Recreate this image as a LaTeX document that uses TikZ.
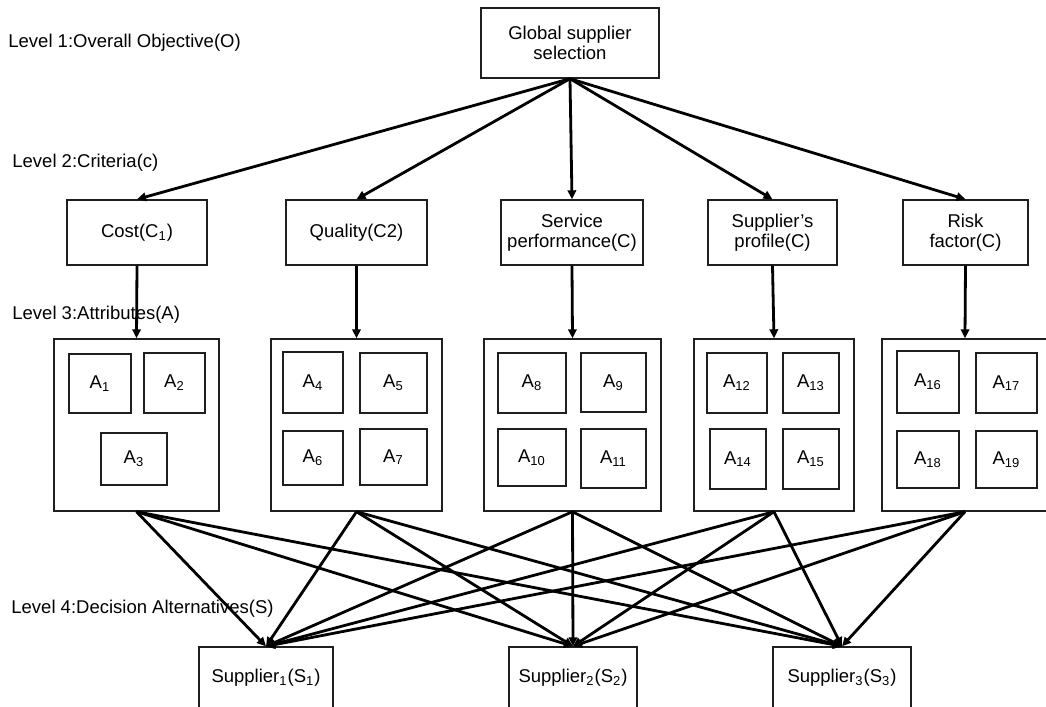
\documentclass[tikz,border=0pt]{standalone}
\usepackage{fontspec}
\setmainfont{Liberation Sans}
\usetikzlibrary{arrows.meta}
\begin{document}
\begin{tikzpicture}[x=0.5pt,y=-0.5pt,
  box/.style={draw=black!88, line width=0.7pt, inner sep=0pt, align=center, font=\fontsize{9.25}{10}\selectfont},
  conn/.style={line width=1.4pt, -{Triangle[length=4.5pt,width=4.2pt]}},
  lvl/.style={anchor=west, inner sep=0pt, font=\fontsize{9.25}{11}\selectfont}]
\useasboundingbox (0,0) rectangle (1046,707);

% level labels
\node[lvl] (l1) at (8,43) {Level 1:Overall Objective(O)};
\node[lvl] (l2) at (12,163) {Level 2:Criteria(c)};
\node[lvl] (l3) at (12,315) {Level 3:Attributes(A)};
\node[lvl] (l4) at (11,609) {Level 4:Decision Alternatives(S)};

% level 1
\node[box, minimum width=89pt, minimum height=35pt] (top) at (570,43) {Global supplier\\selection};

% level 2
\node[box, minimum width=70pt, minimum height=32.5pt] (cost) at (137,232.5) {Cost(C\textsubscript{1})};
\node[box, minimum width=70.5pt, minimum height=32.5pt] (qual) at (356.5,232.5) {Quality(C2)};
\node[box, minimum width=71pt, minimum height=32.5pt] (serv) at (572,232.5) {Service\\performance(C)};
\node[box, minimum width=64.5pt, minimum height=32.5pt] (prof) at (772.5,232.5) {Supplier’s\\profile(C)};
\node[box, minimum width=62.5pt, minimum height=32.5pt] (risk) at (965.5,232.5) {Risk\\factor(C)};

% level 3 containers
\node[box, minimum width=82.5pt, minimum height=86pt] (B1) at (136.5,425) {};
\node[box, minimum width=85.5pt, minimum height=86pt] (B2) at (356.5,425) {};
\node[box, minimum width=88.5pt, minimum height=86pt] (B3) at (572.5,425) {};
\node[box, minimum width=80pt, minimum height=86pt] (B4) at (774,425) {};
\node[box, minimum width=83pt, minimum height=86pt] (B5) at (965,425) {};

% attributes
\node[box, minimum width=31pt, minimum height=29.5pt] (a1) at (100,383.5) {A\textsubscript{1}};
\node[box, minimum width=30.5pt, minimum height=30pt] (a2) at (174.5,383) {A\textsubscript{2}};
\node[box, minimum width=33pt, minimum height=26pt] (a3) at (134,459) {A\textsubscript{3}};
\node[box, minimum width=30pt, minimum height=30.5pt] (a4) at (313,382.5) {A\textsubscript{4}};
\node[box, minimum width=33.5pt, minimum height=30pt] (a5) at (393.5,383) {A\textsubscript{5}};
\node[box, minimum width=30pt, minimum height=27pt] (a6) at (313,458) {A\textsubscript{6}};
\node[box, minimum width=33.5pt, minimum height=28pt] (a7) at (393.5,457) {A\textsubscript{7}};
\node[box, minimum width=34pt, minimum height=30pt] (a8) at (532,383) {A\textsubscript{8}};
\node[box, minimum width=32.5pt, minimum height=29.5pt] (a9) at (613.5,382.5) {A\textsubscript{9}};
\node[box, minimum width=34pt, minimum height=28.5pt] (a10) at (532,457.5) {A\textsubscript{10}};
\node[box, minimum width=32.5pt, minimum height=29.5pt] (a11) at (613.5,458.5) {A\textsubscript{11}};
\node[box, minimum width=30pt, minimum height=30pt] (a12) at (737,383) {A\textsubscript{12}};
\node[box, minimum width=28pt, minimum height=30pt] (a13) at (811,383) {A\textsubscript{13}};
\node[box, minimum width=28pt, minimum height=30pt] (a14) at (738,459) {A\textsubscript{14}};
\node[box, minimum width=28pt, minimum height=30pt] (a15) at (811,459) {A\textsubscript{15}};
\node[box, minimum width=31pt, minimum height=31pt] (a16) at (928,382) {A\textsubscript{16}};
\node[box, minimum width=30.5pt, minimum height=30pt] (a17) at (1006.5,383) {A\textsubscript{17}};
\node[box, minimum width=31pt, minimum height=28.5pt] (a18) at (928,459.5) {A\textsubscript{18}};
\node[box, minimum width=30.5pt, minimum height=28.5pt] (a19) at (1006.5,459.5) {A\textsubscript{19}};

% level 4
\node[box, minimum width=67pt, minimum height=31pt] (S1) at (266,678) {Supplier\textsubscript{1}(S\textsubscript{1})};
\node[box, minimum width=64pt, minimum height=31pt] (S2) at (573,678) {Supplier\textsubscript{2}(S\textsubscript{2})};
\node[box, minimum width=69pt, minimum height=31pt] (S3) at (842,678) {Supplier\textsubscript{3}(S\textsubscript{3})};

% connectors level 1 -> 2
\foreach \c in {cost,qual,serv,prof,risk}
  \draw[conn] (top.south) -- (\c.north);
% level 2 -> 3
\draw[conn] (cost.south) -- (B1.north);
\draw[conn] (qual.south) -- (B2.north);
\draw[conn] (serv.south) -- (B3.north);
\draw[conn] (prof.south) -- (B4.north);
\draw[conn] (risk.south) -- (B5.north);
% level 3 -> 4
\foreach \b in {B1,B2,B3,B4,B5}
  \foreach \s in {S1,S2,S3}
    \draw[conn] (\b.south) -- (\s.north);
\end{tikzpicture}
\end{document}
